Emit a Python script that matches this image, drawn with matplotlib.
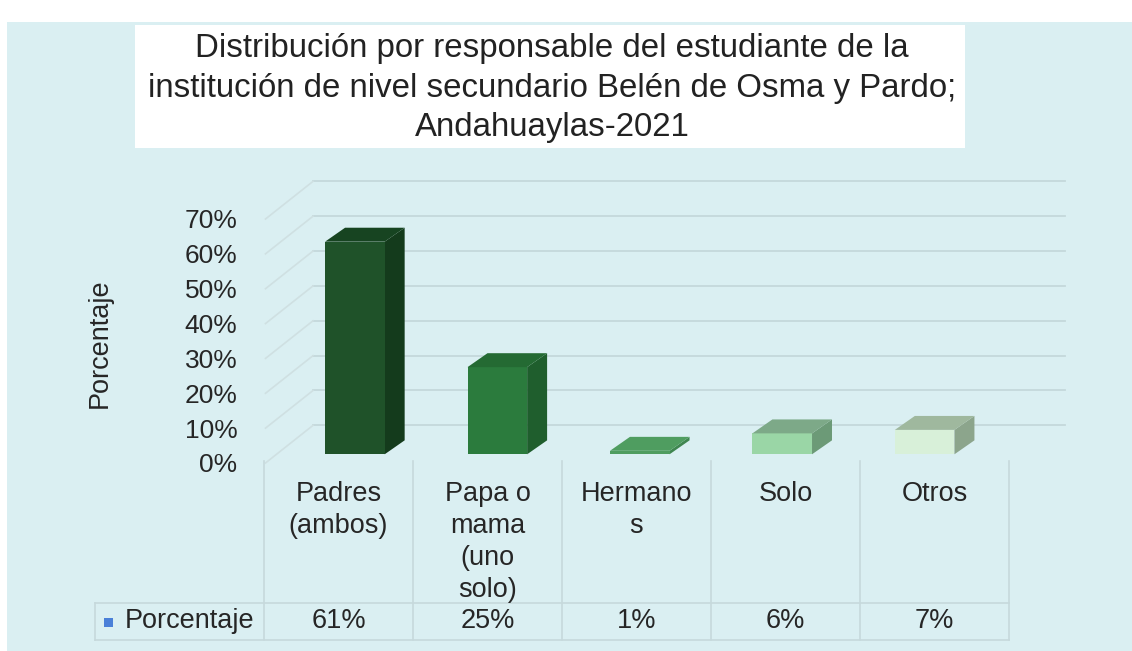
import numpy as np
import matplotlib
matplotlib.use("Agg")
import matplotlib.pyplot as plt
from matplotlib.patches import Polygon, Rectangle
from matplotlib.ticker import PercentFormatter
from matplotlib.transforms import blended_transform_factory

plt.rcParams['font.family'] = ['Liberation Sans', 'DejaVu Sans']

# data
categories = ["Padres\n(ambos)", "Papa o\nmama\n(uno\nsolo)", "Hermano\ns", "Solo", "Otros"]
values = [0.61, 0.25, 0.01, 0.06, 0.07]
value_labels = ["61%", "25%", "1%", "6%", "7%"]
series_name = "Porcentaje"
title = ("Distribución por responsable del estudiante de la\n"
         "institución de nivel secundario Belén de Osma y Pardo;\n"
         "Andahuaylas-2021")

# colours per bar: front, top, side
front_cols = ["#1f5229", "#2b7b3d", "#4f9d60", "#9ad6a6", "#d8f0d9"]
top_cols = ["#174421", "#246a33", "#4f9d60", "#7da988", "#9fb89e"]
side_cols = ["#143b1c", "#1f5e2d", "#3f8650", "#6c9a77", "#8ca58c"]

W, H = 1132, 651
fig = plt.figure(figsize=(W / 100, H / 100), dpi=100)
fig.patch.set_facecolor("white")

def fy(px):
    return 1 - px / H

def fx(px):
    return px / W

# background panel and title box (behind the axes)
fig.patches.append(Rectangle((fx(7), 0), 1 - fx(7), fy(22), transform=fig.transFigure,
                             facecolor="#daeff2", edgecolor="none", zorder=-2))
fig.patches.append(Rectangle((fx(135), fy(148)), fx(965) - fx(135), fy(25) - fy(148),
                             transform=fig.transFigure, facecolor="white",
                             edgecolor="none", zorder=-1))
fig.text(fx(552), fy(88), title, ha="center", va="center", fontsize=23.8,
         color="#222222", linespacing=1.36)

# main axes: x categories, y percent (front plane)
ax = fig.add_axes([fx(264), fy(463), fx(1009) - fx(264), fy(219) - fy(463)])
ax.set_xlim(-0.5, 4.5)
ax.set_ylim(0, 0.7)
ax.patch.set_alpha(0)
for s in ax.spines.values():
    s.set_visible(False)
ax.set_xticks([])
ax.set_yticks(np.arange(0, 0.71, 0.1))
ax.yaxis.set_major_formatter(PercentFormatter(1.0, decimals=0))
ax.tick_params(axis="y", length=0, pad=19, labelsize=19, labelcolor="#262626")

# back wall gridlines with left-wall diagonals
wall_x0, wall_x1, wall_dy = -0.171, 4.876, 0.108
grid_col = "#c4d8db"
for v in np.arange(0, 0.71, 0.1):
    ax.plot([wall_x0, wall_x1], [v + wall_dy, v + wall_dy], color=grid_col, lw=1.3,
            clip_on=False, zorder=1)
    ax.plot([-0.49, wall_x0], [v, v + wall_dy], color="#cfe0e2", lw=1.2,
            clip_on=False, zorder=1)

# 3D-look bars
bw, ddx, ddy, base = 0.40, 0.134, 0.040, 0.025
for i, v in enumerate(values):
    xc = i + 0.11 - 0.044 * i
    xl, xr = xc - bw / 2, xc + bw / 2
    top = base + v
    ax.add_patch(Polygon([(xr, base), (xr + ddx, base + ddy), (xr + ddx, top + ddy), (xr, top)],
                         closed=True, facecolor=side_cols[i], edgecolor="none",
                         clip_on=False, zorder=3))
    ax.add_patch(Rectangle((xl, base), bw, v, facecolor=front_cols[i], edgecolor="none",
                           clip_on=False, zorder=3))
    ax.add_patch(Polygon([(xl, top), (xr, top), (xr + ddx, top + ddy), (xl + ddx, top + ddy)],
                         closed=True, facecolor=top_cols[i], edgecolor="none",
                         clip_on=False, zorder=4))

# y axis title
fig.text(fx(100), fy(343), series_name, rotation=90, ha="center", va="center",
         fontsize=19.5, color="#262626")

# data table
tr = blended_transform_factory(ax.transData, fig.transFigure)
line_col = "#c6d9dc"
for b in np.arange(-0.5, 4.6, 1.0):
    ax.plot([b, b], [fy(461), fy(640)], transform=tr, color=line_col, lw=1.2, clip_on=False)
x_left = ax.transData.inverted().transform((95, 0))[0]
for py in (603, 640):
    ax.plot([x_left, 4.5], [fy(py), fy(py)], transform=tr, color=line_col, lw=1.2,
            clip_on=False)
ax.plot([x_left, x_left], [fy(603), fy(640)], transform=tr, color=line_col, lw=1.2,
        clip_on=False)

for i, (cat, lab) in enumerate(zip(categories, value_labels)):
    ax.text(i, fy(481), cat, transform=tr, ha="center", va="top", fontsize=19.5,
            color="#262626", linespacing=1.3)
    ax.text(i, fy(621), lab, transform=tr, ha="center", va="center", fontsize=19.5,
            color="#262626")

fig.patches.append(Rectangle((fx(104), fy(627)), fx(9), 9 / H, transform=fig.transFigure,
                             facecolor="#4a80d8", edgecolor="none", zorder=2))
fig.text(fx(125), fy(621), series_name, ha="left", va="center", fontsize=19.5,
         color="#262626")

fig.savefig("out.png", dpi=100, facecolor=fig.get_facecolor())
